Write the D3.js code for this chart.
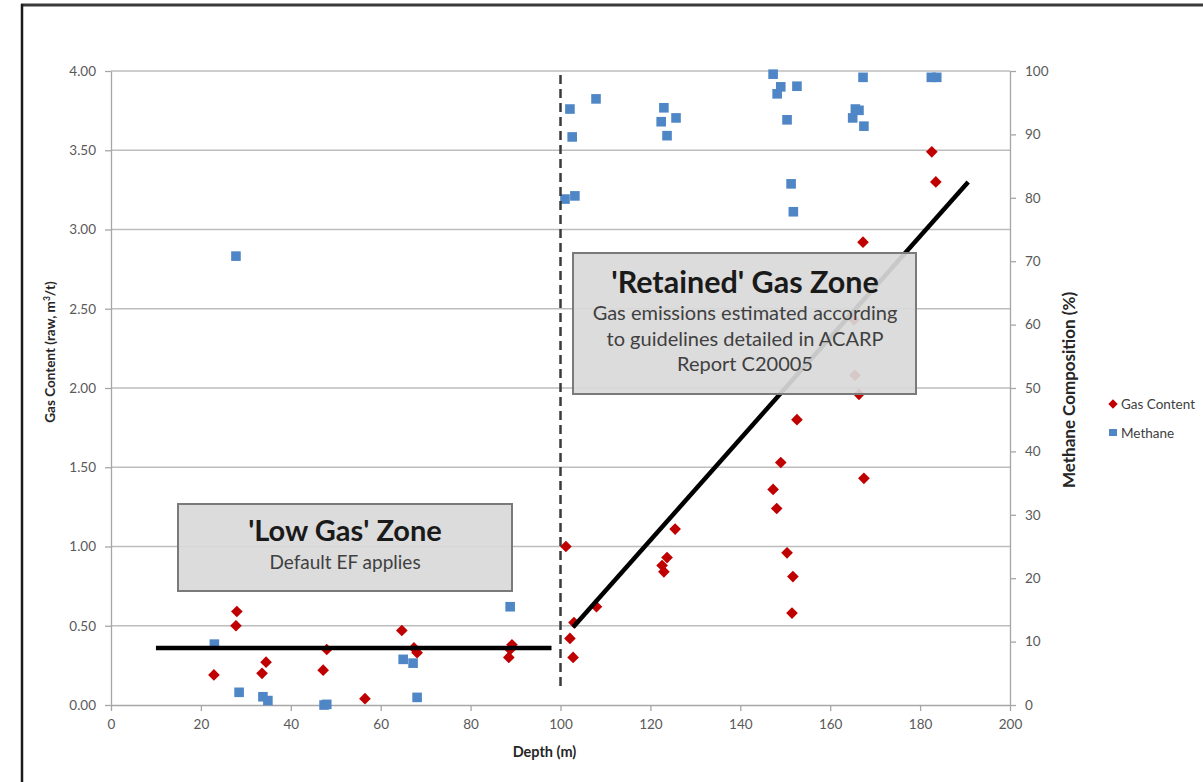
<!DOCTYPE html>
<html><head><meta charset="utf-8">
<script src="https://cdn.jsdelivr.net/npm/d3@7/dist/d3.min.js"></script>
<style>
html,body{margin:0;padding:0;background:#fff;}
svg{display:block;font-family:Lato,"Open Sans",sans-serif;}
</style></head>
<body><svg id="c" width="1203" height="782"></svg>
<script>
// ---- data ----
const gasDepth = [22.9,28.0,27.8,33.6,34.5,47.2,48.0,56.5,64.7,67.4,68.1,88.5,88.8,89.2,101.2,102.1,102.8,103.0,108.0,122.6,123.0,123.7,125.5,147.3,148.1,149.0,150.4,151.5,151.7,152.6,165.3,165.5,166.4,167.3,167.5,182.6,183.5];
const gasValue = [0.19,0.59,0.50,0.20,0.27,0.22,0.35,0.04,0.47,0.36,0.33,0.30,0.35,0.38,1.00,0.42,0.30,0.52,0.62,0.88,0.84,0.93,1.11,1.36,1.24,1.53,0.96,0.58,0.81,1.80,2.43,2.08,1.96,2.92,1.43,3.49,3.30];
const methDepth = [23.0,27.8,28.5,33.8,34.9,47.4,48.0,65.0,67.2,68.1,88.8,101.0,102.1,102.6,103.2,107.9,122.4,123.0,123.7,125.7,147.3,148.2,149.0,150.4,151.3,151.8,152.6,165.0,165.6,166.4,167.3,167.5,182.5,183.7];
const methValue = [9.6,70.8,2.0,1.3,0.7,0.0,0.1,7.2,6.6,1.2,15.5,79.8,94.0,89.6,80.3,95.6,92.0,94.2,89.8,92.6,99.5,96.4,97.5,92.3,82.2,77.8,97.6,92.6,94.0,93.8,99.0,91.3,99.0,99.0];
const lowTrendDepth = [10, 98];
const lowTrendValue = [0.36, 0.36];
const retTrendDepth = [102.8, 190.7];
const retTrendValue = [0.49, 3.30];
const boundaryDepth = 100;
const xTicks = [0,20,40,60,80,100,120,140,160,180,200];
const yLeftTicks = [0,0.5,1,1.5,2,2.5,3,3.5,4];
const yRightTicks = [0,10,20,30,40,50,60,70,80,90,100];
const legendLabels = ["Gas Content","Methane"];

// ---- scales ----
const svg = d3.select("#c");
const x = d3.scaleLinear().domain([0,200]).range([111,1010]);
const yL = d3.scaleLinear().domain([0,4]).range([705,71]);
const yR = d3.scaleLinear().domain([0,100]).range([705,71]);
const red = "#c00000", blue = "#4f86c6";

// frame
svg.append("line").attr("x1",21).attr("y1",5).attr("x2",1203).attr("y2",5).attr("stroke","#3a3a3a").attr("stroke-width",3);
svg.append("line").attr("x1",22).attr("y1",4).attr("x2",22).attr("y2",782).attr("stroke","#1a1a1a").attr("stroke-width",2.5);

// gridlines
svg.append("g").selectAll("line").data(yLeftTicks.filter(d=>d>0)).join("line")
  .attr("x1",x(0)).attr("x2",x(200)).attr("y1",d=>yL(d)).attr("y2",d=>yL(d))
  .attr("stroke","#bdbdbd").attr("stroke-width",1.3);

// axes
function styleAxis(g){
  g.selectAll(".domain").attr("stroke","#a6a6a6").attr("stroke-width",1.3);
  g.selectAll(".tick line").attr("stroke","#a6a6a6").attr("stroke-width",1.3);
  g.selectAll(".tick text").attr("fill","#595959").attr("font-size","13.5px").attr("font-family","Lato,'Open Sans',sans-serif");
}
svg.append("g").attr("transform",`translate(${x(0)},0)`)
  .call(d3.axisLeft(yL).tickValues(yLeftTicks).tickFormat(d3.format(".2f")).tickSize(6).tickSizeOuter(0).tickPadding(9))
  .call(styleAxis);
svg.append("g").attr("transform",`translate(${x(200)},0)`)
  .call(d3.axisRight(yR).tickValues(yRightTicks).tickSize(6).tickSizeOuter(0).tickPadding(9))
  .call(styleAxis);
svg.append("g").attr("transform",`translate(0,${yL(0)})`)
  .call(d3.axisBottom(x).tickValues(xTicks).tickSize(6).tickSizeOuter(0).tickPadding(8))
  .call(styleAxis);

// axis titles
svg.append("text").attr("x",x(100)-16).attr("y",757).attr("text-anchor","middle")
  .attr("font-size","14.5px").attr("font-weight","bold").attr("fill","#262626").text("Depth (m)");
const lt = svg.append("text").attr("transform","translate(55,352) rotate(-90)").attr("text-anchor","middle")
  .attr("font-size","13.5px").attr("font-weight","bold").attr("fill","#262626");
lt.append("tspan").text("Gas Content (raw, m");
lt.append("tspan").attr("font-size","8.5px").attr("dy",-5).text("3");
lt.append("tspan").attr("dy",5).text("/t)");
svg.append("text").attr("transform","translate(1075,390) rotate(-90)").attr("text-anchor","middle")
  .attr("font-size","17px").attr("font-weight","bold").attr("fill","#262626").text("Methane Composition (%)");

// markers
const gasData = gasDepth.map((d,i)=>({d, v:gasValue[i]}));
const methData = methDepth.map((d,i)=>({d, v:methValue[i]}));
svg.append("g").selectAll("path").data(gasData).join("path")
  .attr("d", d3.symbol().type(d3.symbolSquare).size(68))
  .attr("transform",d=>`translate(${x(d.d)},${yL(d.v)}) rotate(45)`)
  .attr("fill",red);
svg.append("g").selectAll("rect").data(methData).join("rect")
  .attr("x",d=>x(d.d)-4.8).attr("y",d=>yR(d.v)-4.8).attr("width",9.6).attr("height",9.6)
  .attr("fill",blue);

// boundary dashed line
svg.append("line").attr("x1",x(boundaryDepth)).attr("x2",x(boundaryDepth))
  .attr("y1",yL(4)+4).attr("y2",688).attr("stroke","#3a3a3a").attr("stroke-width",2.5)
  .attr("stroke-dasharray","9,5");

// trend lines
const line = d3.line().x(d=>x(d[0])).y(d=>yL(d[1]));
svg.append("path").attr("d",line(lowTrendDepth.map((d,i)=>[d,lowTrendValue[i]])))
  .attr("stroke","#000").attr("stroke-width",4.5).attr("fill","none");
svg.append("path").attr("d",line(retTrendDepth.map((d,i)=>[d,retTrendValue[i]])))
  .attr("stroke","#000").attr("stroke-width",4.5).attr("fill","none");

// annotation boxes
function box(x0,y0,x1,y1){
  svg.append("rect").attr("x",x0).attr("y",y0).attr("width",x1-x0).attr("height",y1-y0)
    .attr("fill","#d9d9d9").attr("fill-opacity",0.92).attr("stroke","#7a7a7a").attr("stroke-width",2);
}
box(178,504,512,591);
svg.append("text").attr("x",345).attr("y",541).attr("text-anchor","middle").attr("font-size","29px")
  .attr("font-weight","bold").attr("fill","#1a1a1a").text("'Low Gas' Zone");
svg.append("text").attr("x",345).attr("y",569).attr("text-anchor","middle").attr("font-size","19px")
  .attr("fill","#404040").text("Default EF applies");

box(573,253,916,394);
svg.append("text").attr("x",745).attr("y",293).attr("text-anchor","middle").attr("font-size","30.5px")
  .attr("font-weight","bold").attr("fill","#1a1a1a").text("'Retained' Gas Zone");
["Gas emissions estimated according","to guidelines detailed in ACARP","Report C20005"].forEach((t,i)=>{
  svg.append("text").attr("x",745).attr("y",320+i*25.5).attr("text-anchor","middle").attr("font-size","20px")
    .attr("fill","#404040").text(t);
});

// legend
const lg = svg.append("g");
lg.append("path").attr("d",d3.symbol().type(d3.symbolSquare).size(44)).attr("transform","translate(1113,404) rotate(45)").attr("fill",red);
lg.append("rect").attr("x",1109).attr("y",429).attr("width",8).attr("height",7).attr("fill",blue);
legendLabels.forEach((t,i)=>{
  lg.append("text").attr("x",1121).attr("y",409+i*29).attr("font-size","13.5px").attr("fill","#404040").text(t);
});
</script></body></html>
